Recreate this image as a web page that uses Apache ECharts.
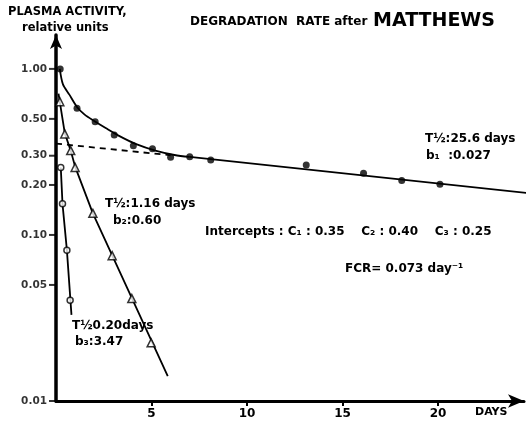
<!DOCTYPE html>
<html>
<head>
<meta charset="utf-8">
<script src="https://cdn.jsdelivr.net/npm/echarts@6/dist/echarts.min.js"></script>
<style>
  html, body { margin: 0; padding: 0; background: #fff; }
  #chart { width: 530px; height: 424px; }
</style>
</head>
<body>
<div id="chart"></div>
<script>
// measured points, days vs relative plasma activity
const mainDays = [0.22, 1.1, 2.05, 3.05, 4.05, 5.05, 6.0, 7.0, 8.1, 13.1, 16.1, 18.1, 20.1];
const mainActivity = [1.0, 0.58, 0.48, 0.40, 0.345, 0.33, 0.294, 0.296, 0.283, 0.264, 0.235, 0.213, 0.202];

// first residuals (triangles) and second residuals (open circles)
const triDays = [0.2, 0.46, 0.77, 1.0, 1.93, 2.94, 3.97, 4.98];
const triActivity = [0.635, 0.406, 0.322, 0.255, 0.135, 0.075, 0.0414, 0.0224];
const circDays = [0.25, 0.34, 0.57, 0.74];
const circActivity = [0.255, 0.154, 0.081, 0.0405];

// drawn fit curves
const mainCurveDays = [0.2, 0.36, 0.7, 1.1, 1.5, 2.0, 2.6, 3.3, 4.2, 5.2, 6.2, 7.0];
const mainCurveValues = [1.0, 0.81, 0.70, 0.59, 0.53, 0.485, 0.44, 0.395, 0.352, 0.322, 0.303, 0.295];
const slowLineDays = [7.0, 24.8];
const slowLineValues = [0.295, 0.178];
const dashDays = [0, 6.0];
const dashValues = [0.355, 0.302];
const triLineDays = [0.13, 0.46, 0.77, 1.0, 1.93, 5.85];
const triLineValues = [0.71, 0.41, 0.322, 0.258, 0.135, 0.0141];
const circLineDays = [0.25, 0.34, 0.57, 0.81];
const circLineValues = [0.255, 0.154, 0.081, 0.033];

// axis labels
const yTicks = [1.0, 0.5, 0.3, 0.2, 0.1, 0.05, 0.01];
const xTicks = [5, 10, 15, 20];

const pair = (xs, ys) => xs.map((x, i) => [x, ys[i]]);
const FONT = '"DejaVu Sans", "Liberation Sans", sans-serif';
const lineStyle = { color: '#000', width: 1.8 };

let myChart = echarts.init(document.getElementById('chart'));

let option = {
    backgroundColor: '#fff',
    animation: false,
    grid: { left: 56, top: 35, width: 468, height: 366 },
    xAxis: {
        type: 'value',
        min: 0,
        max: 24.5,
        interval: 5,
        axisLine: {
            lineStyle: { color: '#000', width: 3 },
            symbol: ['none', 'arrow'],
            symbolSize: [10, 16]
        },
        axisTick: { customValues: xTicks, length: 5, lineStyle: { color: '#000', width: 2 } },
        axisLabel: {
            customValues: xTicks,
            formatter: v => (v > 0 && v % 5 === 0 ? String(v) : ''),
            color: '#000', fontWeight: 'bold', fontSize: 12, fontFamily: FONT, margin: 7
        },
        splitLine: { show: false }
    },
    yAxis: {
        type: 'log',
        logBase: 10,
        min: 0.01,
        max: 1.6,
        axisLine: {
            lineStyle: { color: '#000', width: 3.5 },
            symbol: ['none', 'arrow'],
            symbolSize: [9, 14]
        },
        axisTick: { show: false },
        axisLabel: { show: false },
        splitLine: { show: false }
    },
    series: [
        {
            // y tick marks and labels at the hand-drawn positions
            type: 'scatter',
            silent: true,
            clip: false,
            data: yTicks.map(v => [0, v]),
            symbol: 'rect',
            symbolSize: [6, 2],
            symbolOffset: [-4, 0],
            itemStyle: { color: '#000' },
            label: {
                show: true,
                position: 'left',
                distance: 2,
                formatter: p => p.value[1].toFixed(2),
                color: '#000', fontWeight: 'bold', fontSize: 10.5, fontFamily: FONT
            },
            z: 5
        },
        {
            type: 'line',
            data: pair(mainCurveDays, mainCurveValues),
            smooth: 0.3,
            showSymbol: false,
            lineStyle: lineStyle,
            clip: false
        },
        {
            type: 'line',
            data: pair(slowLineDays, slowLineValues),
            showSymbol: false,
            lineStyle: lineStyle,
            clip: false
        },
        {
            type: 'line',
            data: pair(dashDays, dashValues),
            showSymbol: false,
            lineStyle: { color: '#000', width: 1.8, type: [6, 5] }
        },
        {
            type: 'line',
            data: pair(triLineDays, triLineValues),
            showSymbol: false,
            lineStyle: lineStyle
        },
        {
            type: 'line',
            data: pair(circLineDays, circLineValues),
            showSymbol: false,
            lineStyle: lineStyle
        },
        {
            type: 'scatter',
            data: pair(mainDays, mainActivity),
            symbol: 'circle',
            symbolSize: 7,
            itemStyle: { color: '#000' },
            z: 4
        },
        {
            type: 'scatter',
            data: pair(triDays, triActivity),
            symbol: 'triangle',
            symbolSize: 8,
            itemStyle: { color: '#fff', borderColor: '#000', borderWidth: 1.5 },
            z: 4
        },
        {
            type: 'scatter',
            data: pair(circDays, circActivity),
            symbol: 'circle',
            symbolSize: 6,
            itemStyle: { color: '#fff', borderColor: '#000', borderWidth: 1.5 },
            z: 4
        }
    ],
    graphic: [
        { type: 'text', left: 8, top: 6, style: { text: 'PLASMA ACTIVITY,', font: 'bold 11.5px ' + FONT, fill: '#000' } },
        { type: 'text', left: 22, top: 22, style: { text: 'relative units', font: 'bold 11.5px ' + FONT, fill: '#000' } },
        { type: 'text', left: 190, top: 16, style: { text: 'DEGRADATION  RATE after', font: 'bold 12px ' + FONT, fill: '#000' } },
        { type: 'text', left: 373, top: 12, style: { text: 'MATTHEWS', font: 'bold 19px ' + FONT, fill: '#000' } },
        { type: 'text', left: 425, top: 133, style: { text: 'T½:25.6 days', font: 'bold 12px ' + FONT, fill: '#000' } },
        { type: 'text', left: 426, top: 150, style: { text: 'b₁  :0.027', font: 'bold 12px ' + FONT, fill: '#000' } },
        { type: 'text', left: 105, top: 198, style: { text: 'T½:1.16 days', font: 'bold 12px ' + FONT, fill: '#000' } },
        { type: 'text', left: 113, top: 215, style: { text: 'b₂:0.60', font: 'bold 12px ' + FONT, fill: '#000' } },
        { type: 'text', left: 72, top: 320, style: { text: 'T½0.20days', font: 'bold 12px ' + FONT, fill: '#000' } },
        { type: 'text', left: 75, top: 336, style: { text: 'b₃:3.47', font: 'bold 12px ' + FONT, fill: '#000' } },
        { type: 'text', left: 205, top: 226, style: { text: 'Intercepts : C₁ : 0.35    C₂ : 0.40    C₃ : 0.25', font: 'bold 12px ' + FONT, fill: '#000' } },
        { type: 'text', left: 345, top: 263, style: { text: 'FCR= 0.073 day⁻¹', font: 'bold 12px ' + FONT, fill: '#000' } },
        { type: 'text', left: 475, top: 407, style: { text: 'DAYS', font: 'bold 11px ' + FONT, fill: '#000' } }
    ]
};

myChart.setOption(option, true);
</script>
</body>
</html>
